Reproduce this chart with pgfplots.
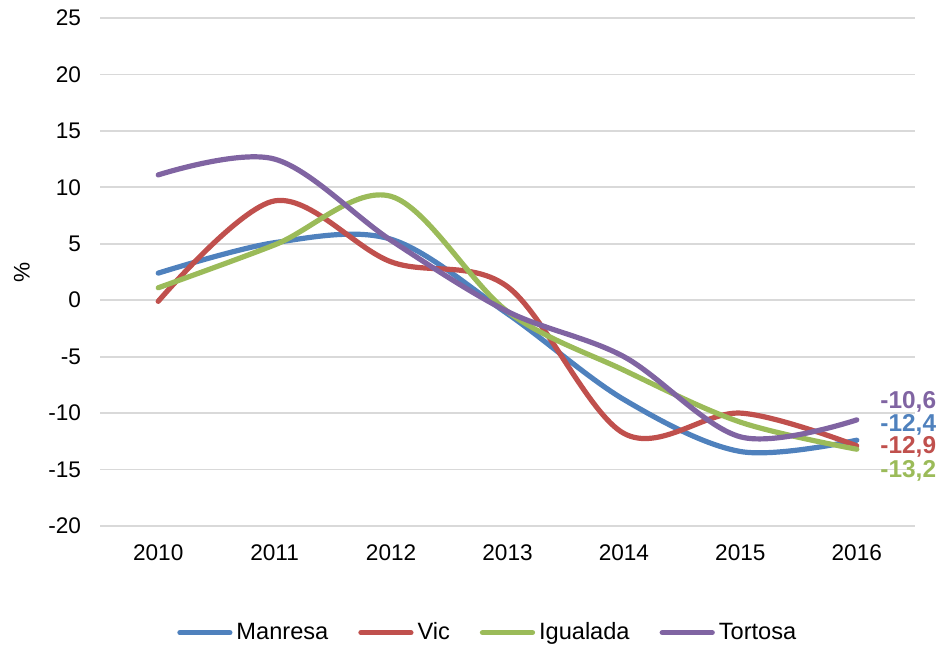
\documentclass[border=0pt]{standalone}
\usepackage{fontspec}
\setmainfont{Liberation Sans}
\usepackage{pgfplots}
\pgfplotsset{compat=1.18}
\definecolor{manresa}{HTML}{4F81BD}
\definecolor{vic}{HTML}{C0504D}
\definecolor{igualada}{HTML}{9BBB59}
\definecolor{tortosa}{HTML}{8064A2}
\definecolor{gridgray}{HTML}{D9D9D9}

\begin{document}
\begin{tikzpicture}
\begin{axis}[
    scale only axis,
    width=407.5pt,
    height=254pt,
    xmin=-0.5, xmax=6.5,
    ymin=-20, ymax=25,
    xtick={0,1,2,3,4,5,6},
    xticklabels={2010,2011,2012,2013,2014,2015,2016},
    ytick={-20,-15,...,25},
    axis line style={draw=none},
    major tick length=0pt,
    ymajorgrids=true,
    grid style={gridgray, line width=0.9pt},
    tick label style={font=\fontsize{11.3}{13}\selectfont},
    /pgf/number format/assume math mode=true,
    xticklabel style={yshift=-6pt},
    yticklabel style={xshift=-6pt},
    ylabel={\%},
    ylabel style={at={(axis description cs:-0.096,0.5)}, anchor=center, font=\fontsize{11.3}{13}\selectfont},
    legend style={at={(0.477,-0.21)}, anchor=center, draw=none, legend columns=4,
        font=\fontsize{11.8}{14}\selectfont,
        /tikz/every even column/.append style={column sep=13pt}},
    legend image code/.code={\draw[#1, line cap=round] (0pt,0pt) -- (25pt,0pt);},
    every axis plot/.append style={line width=2.6pt, smooth, tension=0.55, line cap=round},
    clip=false,
]
\addplot[manresa] coordinates {(0,2.4) (1,5.1) (2,5.4) (3,-1.2) (4,-8.8) (5,-13.4) (6,-12.4)};
\addplot[vic] coordinates {(0,-0.1) (1,8.8) (2,3.4) (3,1.2) (4,-11.8) (5,-10.0) (6,-12.9)};
\addplot[igualada] coordinates {(0,1.1) (1,4.9) (2,9.2) (3,-1.0) (4,-6.2) (5,-10.8) (6,-13.2)};
\addplot[tortosa] coordinates {(0,11.1) (1,12.5) (2,5.3) (3,-1.0) (4,-5.0) (5,-12.1) (6,-10.6)};
\legend{Manresa, Vic, Igualada, Tortosa}
\node[anchor=west, text=tortosa, font=\bfseries\fontsize{12.2}{14}\selectfont, inner sep=0pt] at (axis cs:6.2,-9.0) {-10,6};
\node[anchor=west, text=manresa, font=\bfseries\fontsize{12.2}{14}\selectfont, inner sep=0pt] at (axis cs:6.2,-11.0) {-12,4};
\node[anchor=west, text=vic, font=\bfseries\fontsize{12.2}{14}\selectfont, inner sep=0pt] at (axis cs:6.2,-13.0) {-12,9};
\node[anchor=west, text=igualada, font=\bfseries\fontsize{12.2}{14}\selectfont, inner sep=0pt] at (axis cs:6.2,-15.1) {-13,2};
\coordinate (bl) at (rel axis cs:0,0);
\coordinate (tr) at (rel axis cs:1,1);
\end{axis}
\pgfresetboundingbox
\path ([shift={(-50pt,-62pt)}]bl) rectangle ([shift={(14.5pt,9pt)}]tr);
\end{tikzpicture}
\end{document}
